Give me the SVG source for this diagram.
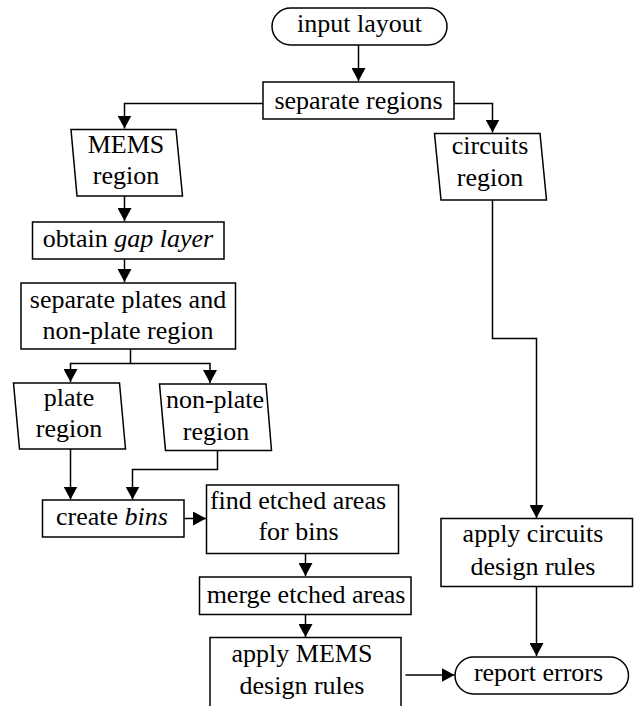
<svg xmlns="http://www.w3.org/2000/svg" width="637" height="706" viewBox="0 0 637 706" font-family="Liberation Serif, serif">
<style>
.s{fill:#fff;stroke:#000;stroke-width:1.5}
.c{fill:none;stroke:#000;stroke-width:1.5}
text{font-size:26px;fill:#000;text-anchor:middle}
.i{font-style:italic}
</style>
<defs>
<marker id="a" markerUnits="userSpaceOnUse" markerWidth="14" markerHeight="14" refX="13" refY="7" orient="auto">
<path d="M0,0 L13,7 L0,14 z" fill="#000"/>
</marker>
</defs>
<rect width="637" height="706" fill="#fff"/>
<g id="connectors">
<path class="c" d="M358.5,45 V81" marker-end="url(#a)"/>
<path class="c" d="M263,103.5 H124.5 V128.5" marker-end="url(#a)"/>
<path class="c" d="M454,103.5 H492.5 V132.5" marker-end="url(#a)"/>
<path class="c" d="M124.5,196 V221" marker-end="url(#a)"/>
<path class="c" d="M124.5,259 V282" marker-end="url(#a)"/>
<path class="c" d="M130.5,349 V363.5 H70.5 V382" marker-end="url(#a)"/>
<path class="c" d="M130.5,363.5 H210 V383" marker-end="url(#a)"/>
<path class="c" d="M70.5,449 V499.5" marker-end="url(#a)"/>
<path class="c" d="M217.5,450.5 V469.5 H132.5 V499.5" marker-end="url(#a)"/>
<path class="c" d="M184,518.5 H206" marker-end="url(#a)"/>
<path class="c" d="M305.5,553.5 V576" marker-end="url(#a)"/>
<path class="c" d="M305.5,614.5 V637" marker-end="url(#a)"/>
<path class="c" d="M492.5,200 V338.5 H536.5 V518" marker-end="url(#a)"/>
<path class="c" d="M536.5,586.5 V656" marker-end="url(#a)"/>
<path class="c" d="M405.5,675 H454.5" marker-end="url(#a)"/>
</g>
<g id="input-layout">
<rect class="s" x="272" y="8" width="175" height="37" rx="18.5" ry="18.5"/>
<text x="359.5" y="32" font-family="Liberation Serif, serif">input layout</text>
</g>
<g id="separate-regions">
<rect class="s" x="263" y="82" width="191" height="37"/>
<text x="358.5" y="109" font-family="Liberation Serif, serif">separate regions</text>
</g>
<g id="mems-region">
<polygon class="s" points="71,129.5 176,129.5 182.5,196 77,196"/>
<text x="126" y="153" font-family="Liberation Serif, serif">MEMS</text>
<text x="126" y="184" font-family="Liberation Serif, serif">region</text>
</g>
<g id="circuits-region">
<polygon class="s" points="434.5,133.5 540,133.5 546.5,200 441,200"/>
<text x="490" y="154" font-family="Liberation Serif, serif">circuits</text>
<text x="490" y="186" font-family="Liberation Serif, serif">region</text>
</g>
<g id="obtain-gap-layer">
<rect class="s" x="32.5" y="222" width="191.5" height="37"/>
<text x="128" y="247" font-family="Liberation Serif, serif">obtain <tspan class="i">gap layer</tspan></text>
</g>
<g id="separate-plates">
<rect class="s" x="21" y="283" width="214.5" height="66"/>
<text x="128" y="307.5" font-family="Liberation Serif, serif">separate plates and</text>
<text x="128" y="339" font-family="Liberation Serif, serif">non-plate region</text>
</g>
<g id="plate-region">
<polygon class="s" points="13.5,383 119.5,383 125.5,449 19.5,449"/>
<text x="69" y="406" font-family="Liberation Serif, serif">plate</text>
<text x="69" y="437" font-family="Liberation Serif, serif">region</text>
</g>
<g id="non-plate-region">
<polygon class="s" points="159.5,384 266,384 271.5,450.5 165.5,450.5"/>
<text x="215" y="408" font-family="Liberation Serif, serif">non-plate</text>
<text x="216" y="440" font-family="Liberation Serif, serif">region</text>
</g>
<g id="create-bins">
<rect class="s" x="42.5" y="500" width="141.5" height="37"/>
<text x="112" y="525" font-family="Liberation Serif, serif">create <tspan class="i">bins</tspan></text>
</g>
<g id="find-etched-areas">
<rect class="s" x="206.5" y="485" width="192" height="68.5"/>
<text x="298" y="508.5" font-family="Liberation Serif, serif">find etched areas</text>
<text x="298.5" y="540" font-family="Liberation Serif, serif">for bins</text>
</g>
<g id="merge-etched-areas">
<rect class="s" x="199.5" y="577" width="211.5" height="37.5"/>
<text x="306" y="602.5" font-family="Liberation Serif, serif">merge etched areas</text>
</g>
<g id="apply-mems">
<rect class="s" x="210" y="637.5" width="191" height="72"/>
<text x="302" y="662" font-family="Liberation Serif, serif">apply MEMS</text>
<text x="302" y="693.5" font-family="Liberation Serif, serif">design rules</text>
</g>
<g id="apply-circuits">
<rect class="s" x="441" y="518.5" width="191.5" height="68"/>
<text x="533" y="542" font-family="Liberation Serif, serif">apply circuits</text>
<text x="533" y="575" font-family="Liberation Serif, serif">design rules</text>
</g>
<g id="report-errors">
<rect class="s" x="455" y="657" width="173.5" height="37" rx="18.5" ry="18.5"/>
<text x="538.5" y="681" font-family="Liberation Serif, serif">report errors</text>
</g>
</svg>
